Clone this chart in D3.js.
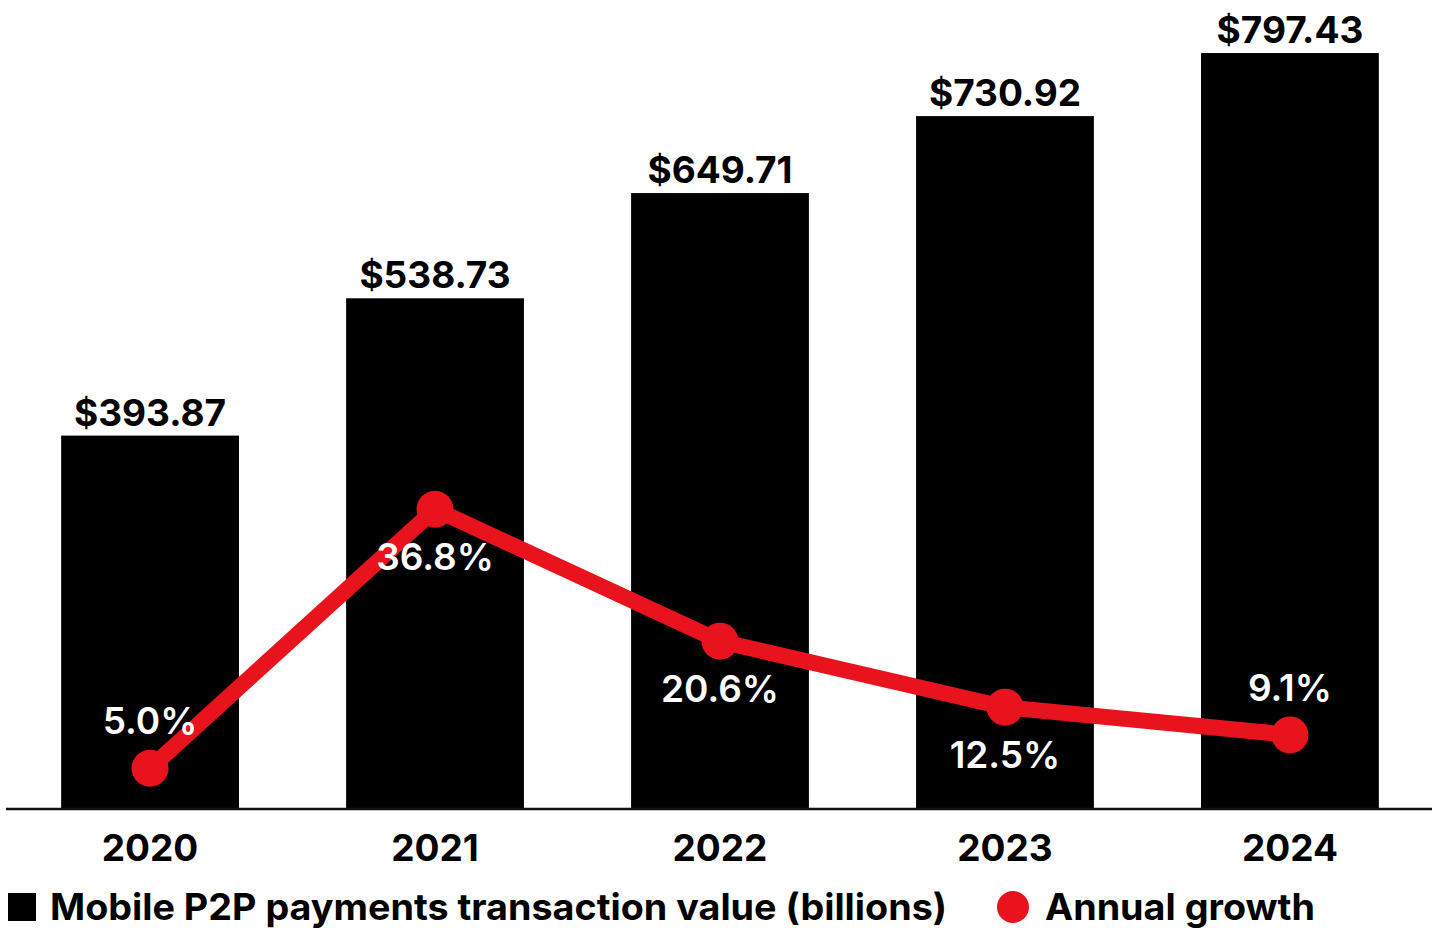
<!DOCTYPE html>
<html>
<head>
<meta charset="utf-8">
<script src="https://cdn.jsdelivr.net/npm/d3@7"></script>
<style>
  html, body { margin: 0; padding: 0; background: #fff; }
  svg { display: block; }
  text { font-family: Inter, "Noto Sans", sans-serif; }
</style>
</head>
<body>
<svg id="chart" width="1435" height="928"></svg>
<script>
// Mobile P2P payments: transaction value (billions) and annual growth
const years = ["2020", "2021", "2022", "2023", "2024"];
const values = [393.87, 538.73, 649.71, 730.92, 797.43];
const growth = [5.0, 36.8, 20.6, 12.5, 9.1];
// label placement for each growth point: above or below the dot
const growthLabelSide = ["above", "below", "below", "below", "above"];
const legendLabels = ["Mobile P2P payments transaction value (billions)", "Annual growth"];

const red = "#e8131c";
const svg = d3.select("#chart");

const baseY = 809;
const x = d3.scaleBand()
  .domain(years)
  .range([7, 1433])
  .paddingInner(0.376)
  .paddingOuter(0.19);

const y = d3.scaleLinear().domain([0, 800]).range([baseY, baseY - 758.4]);
const yG = d3.scaleLinear().domain([0, 40]).range([baseY, baseY - 325.8]);

// bars
svg.append("g").selectAll("rect")
  .data(values)
  .join("rect")
  .attr("x", (d, i) => x(years[i]))
  .attr("y", d => y(d))
  .attr("width", x.bandwidth())
  .attr("height", d => y(0) - y(d))
  .attr("fill", "#000");

// value labels above bars
svg.append("g").selectAll("text")
  .data(values)
  .join("text")
  .attr("x", (d, i) => x(years[i]) + x.bandwidth() / 2)
  .attr("y", d => y(d) - 10)
  .attr("text-anchor", "middle")
  .attr("font-size", 37)
  .attr("font-weight", 700)
  .attr("fill", "#000")
  .text(d => "$" + d3.format(".2f")(d));

// x axis
const axis = svg.append("g")
  .attr("transform", `translate(0,${baseY})`)
  .call(d3.axisBottom(x).tickSize(0).tickPadding(0));
axis.select(".domain")
  .attr("d", "M6,0H1432")
  .attr("stroke", "#111").attr("stroke-width", 2.5);
axis.selectAll(".tick text")
  .attr("dy", null)
  .attr("y", 52)
  .attr("font-size", 37)
  .attr("font-weight", 700)
  .attr("fill", "#000")
  .attr("font-family", "Inter, 'Noto Sans', sans-serif");

// growth line
const cx = i => x(years[i]) + x.bandwidth() / 2;
const line = d3.line().x((d, i) => cx(i)).y(d => yG(d));
svg.append("path")
  .datum(growth)
  .attr("d", line)
  .attr("fill", "none")
  .attr("stroke", red)
  .attr("stroke-width", 16)
  .attr("stroke-linejoin", "round");

svg.append("g").selectAll("circle")
  .data(growth)
  .join("circle")
  .attr("cx", (d, i) => cx(i))
  .attr("cy", d => yG(d))
  .attr("r", 18.5)
  .attr("fill", red);

svg.append("g").selectAll("text")
  .data(growth)
  .join("text")
  .attr("x", (d, i) => cx(i))
  .attr("y", (d, i) => yG(d) + (growthLabelSide[i] === "above" ? -34 : 61))
  .attr("text-anchor", "middle")
  .attr("font-size", 37)
  .attr("font-weight", 600)
  .attr("fill", "#fff")
  .text(d => d3.format(".1f")(d) + "%");

// legend
const legend = svg.append("g");
legend.append("rect")
  .attr("x", 8).attr("y", 893).attr("width", 28).attr("height", 28)
  .attr("fill", "#000");
legend.append("text")
  .attr("x", 50).attr("y", 920)
  .attr("font-size", 37).attr("font-weight", 700).attr("fill", "#000")
  .attr("textLength", 897).attr("lengthAdjust", "spacingAndGlyphs")
  .text(legendLabels[0]);
legend.append("circle")
  .attr("cx", 1013).attr("cy", 907).attr("r", 16)
  .attr("fill", red);
legend.append("text")
  .attr("x", 1045).attr("y", 920)
  .attr("font-size", 37).attr("font-weight", 700).attr("fill", "#000")
  .attr("textLength", 270).attr("lengthAdjust", "spacingAndGlyphs")
  .text(legendLabels[1]);
</script>
</body>
</html>
